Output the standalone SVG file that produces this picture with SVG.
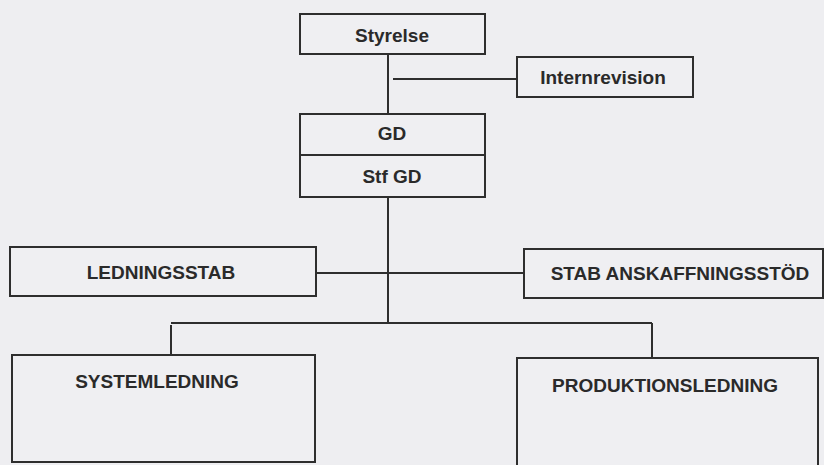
<svg xmlns="http://www.w3.org/2000/svg" width="824" height="465" viewBox="0 0 824 465">
<style>
.bg{fill:#eeeef1}
.box{fill:#efeff2;stroke:#2e2e2e;stroke-width:2}
.ln{stroke:#2e2e2e;stroke-width:2;fill:none}
.t{font-family:"Liberation Sans",Arial,sans-serif;font-weight:bold;font-size:19px;fill:#2a2a2a;text-anchor:middle}
</style>
<rect class="bg" x="0" y="0" width="824" height="465"/>
<g id="connectors">
<line class="ln" x1="388" y1="54" x2="388" y2="114"/>
<line class="ln" x1="393" y1="79" x2="517" y2="79"/>
<line class="ln" x1="388" y1="197" x2="388" y2="323"/>
<line class="ln" x1="316" y1="273" x2="524" y2="273"/>
<line class="ln" x1="171" y1="323" x2="652" y2="323"/>
<line class="ln" x1="171" y1="325" x2="171" y2="355"/>
<line class="ln" x1="652" y1="323" x2="652" y2="358"/>
</g>
<g id="styrelse">
<rect class="box" x="300" y="14" width="185" height="40"/>
<text class="t" x="392" y="42">Styrelse</text>
</g>
<g id="internrevision">
<rect class="box" x="517" y="57" width="176" height="40"/>
<text class="t" x="603" y="84">Internrevision</text>
</g>
<g id="gd">
<rect class="box" x="300" y="114" width="185" height="41"/>
<text class="t" x="392" y="140">GD</text>
</g>
<g id="stfgd">
<rect class="box" x="300" y="155" width="185" height="42"/>
<text class="t" x="392" y="183">Stf GD</text>
</g>
<g id="ledningsstab">
<rect class="box" x="10" y="247" width="306" height="49"/>
<text class="t" x="161" y="279">LEDNINGSSTAB</text>
</g>
<g id="stabanskaffningsstod">
<rect class="box" x="524" y="249" width="299" height="49"/>
<text class="t" x="680" y="280">STAB ANSKAFFNINGSSTÖD</text>
</g>
<g id="systemledning">
<rect class="box" x="12" y="355" width="303" height="107"/>
<text class="t" x="157" y="388">SYSTEMLEDNING</text>
</g>
<g id="produktionsledning">
<rect class="box" x="517" y="358" width="301" height="108"/>
<text class="t" x="665" y="392">PRODUKTIONSLEDNING</text>
</g>
</svg>
